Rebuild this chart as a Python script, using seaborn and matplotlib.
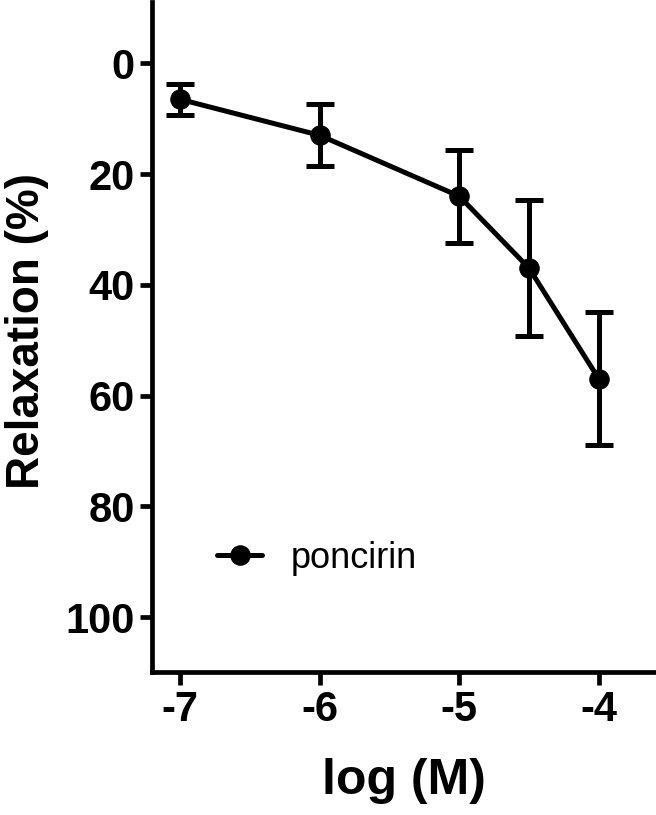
import pandas as pd
import seaborn as sns
import matplotlib.pyplot as plt

# data
log_conc = [-7, -6, -5, -4.5, -4]
relaxation = [6.5, 13, 24, 37, 57]
sem = [2.8, 5.6, 8.4, 12.3, 12.0]
x_ticks = [-7, -6, -5, -4]
y_ticks = [0, 20, 40, 60, 80, 100]

df = pd.DataFrame({'log_M': log_conc, 'relax': relaxation, 'sem': sem})

sns.set_style('ticks', {'axes.edgecolor': 'black', 'text.color': 'black',
                        'xtick.color': 'black', 'ytick.color': 'black',
                        'axes.labelcolor': 'black'})
plt.rcParams['font.family'] = ['Liberation Sans', 'DejaVu Sans']

fig = plt.figure(figsize=(6.56, 8.15), dpi=100)
ax = fig.add_axes([0.232, 0.175, 0.766, 0.822])

ax.errorbar(df['log_M'], df['relax'], yerr=df['sem'], fmt='none',
            ecolor='black', elinewidth=3.6, capsize=10, capthick=3.6, zorder=2)
sns.lineplot(data=df, x='log_M', y='relax', color='black', linewidth=3.6,
             marker='o', markersize=14, markeredgecolor='black',
             label='poncirin', ax=ax, zorder=3)

ax.set_xlim(-7.2, -3.6)
ax.set_ylim(110, -11)
ax.set_xticks(x_ticks)
ax.set_xticklabels([str(v) for v in x_ticks])
ax.set_yticks(y_ticks)

for side in ['top', 'right']:
    ax.spines[side].set_visible(False)
for side in ['left', 'bottom']:
    ax.spines[side].set_linewidth(3.4)
ax.tick_params(width=3.4, length=9, labelsize=30, pad=3.5)
for lab in ax.get_xticklabels() + ax.get_yticklabels():
    lab.set_fontweight('bold')

ax.set_xlabel('log (M)', fontsize=36, fontweight='bold')
ax.set_ylabel('Relaxation (%)', fontsize=33, fontweight='bold')
ax.xaxis.set_label_coords(0.5, -0.128)
ax.yaxis.set_label_coords(-0.206, 0.509)

leg = ax.legend(loc='center left', bbox_to_anchor=(0.129, 0.17), frameon=False,
                fontsize=26, handlelength=1.25, handletextpad=0.8,
                borderpad=0, borderaxespad=0)

fig.savefig('out.png', dpi=100)
